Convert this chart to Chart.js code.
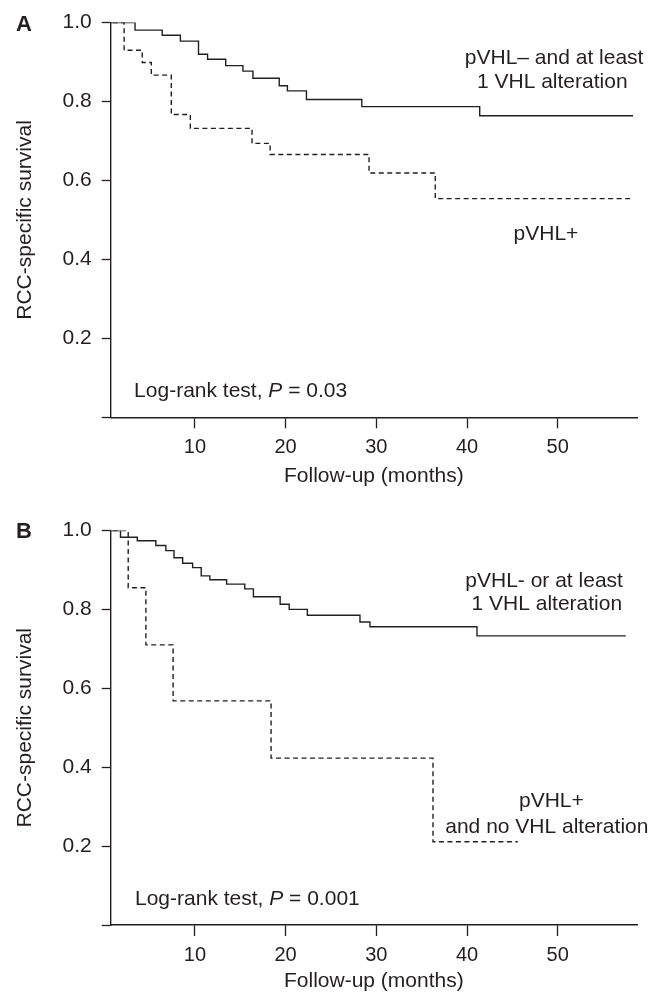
<!DOCTYPE html>
<html>
<head>
<meta charset="utf-8">
<script src="https://cdn.jsdelivr.net/npm/chart.js@4.4.0/dist/chart.umd.min.js"></script>
<style>
  html, body { margin: 0; padding: 0; background: #fff; }
  #wrap { position: relative; width: 665px; height: 996px; }
  .panel { position: absolute; left: 0; width: 665px; }
  #panelA { top: 0; height: 490px; }
  #panelB { top: 490px; height: 506px; }
</style>
</head>
<body>
<div id="wrap">
  <div class="panel" id="panelA"><canvas id="chartA"></canvas></div>
  <div class="panel" id="panelB"><canvas id="chartB"></canvas></div>
</div>
<script>
// survival curves (months, proportion surviving)
const aSolidT = [0, 3.4, 6.4, 8.4, 10.4, 11.4, 13.4, 15.3, 16.4, 19.3, 20.2, 22.3, 28.4, 41.4, 58.3];
const aSolidS = [1.0, 0.981, 0.968, 0.953, 0.920, 0.907, 0.891, 0.877, 0.859, 0.840, 0.827, 0.805, 0.787, 0.764, 0.764];
const aDashT = [0, 2.2, 4.2, 5.2, 7.4, 9.5, 16.3, 18.3, 29.2, 36.5, 58.3];
const aDashS = [1.0, 0.930, 0.899, 0.867, 0.767, 0.732, 0.694, 0.666, 0.619, 0.554, 0.554];

const bSolidT = [0, 1.8, 3.65, 5.7, 6.8, 7.7, 8.65, 9.75, 10.7, 11.65, 13.5, 15.5, 16.45, 19.4, 20.4, 22.4, 28.2, 29.3, 41.1, 57.5];
const bSolidS = [1.0, 0.983, 0.974, 0.962, 0.949, 0.931, 0.917, 0.906, 0.885, 0.875, 0.864, 0.852, 0.832, 0.813, 0.800, 0.785, 0.768, 0.756, 0.733, 0.733];
const bDashT = [0, 2.65, 4.6, 7.6, 18.4, 36.25, 45.6];
const bDashS = [1.0, 0.855, 0.710, 0.568, 0.423, 0.211, 0.211];

const xTicks = [10, 20, 30, 40, 50];
const yTicks = [0, 0.2, 0.4, 0.6, 0.8, 1.0];

const aLabels = ['pVHL\u2013 and at least', '1 VHL alteration', 'pVHL+'];
const bLabels = ['pVHL- or at least', '1 VHL alteration', 'pVHL+', 'and no VHL alteration'];
const aPValue = '0.03';
const bPValue = '0.001';

const INK = '#231f20';
const FAMILY = '"Liberation Sans", Arial, Helvetica, sans-serif';

function toPoints(t, s) {
    return t.map((v, i) => ({ x: v, y: s[i] }));
}

const kmText = {
    id: 'kmText',
    afterDraw(chart, args, opts) {
        const ctx = chart.ctx;
        const xs = chart.scales.x;
        const ys = chart.scales.y;
        ctx.save();
        ctx.fillStyle = INK;
        ctx.textBaseline = 'alphabetic';

        ctx.font = 'bold 22px ' + FAMILY;
        ctx.textAlign = 'left';
        ctx.fillText(opts.letter, opts.letterPos[0], opts.letterPos[1]);

        ctx.font = '21px ' + FAMILY;
        ctx.textAlign = 'center';
        opts.labels.forEach((text, i) => {
            const p = opts.labelPos[i];
            ctx.fillText(text, xs.getPixelForValue(p[0]), ys.getPixelForValue(p[1]));
        });

        // Log-rank line with italic P
        ctx.textAlign = 'left';
        let x = xs.getPixelForValue(opts.pPos[0]);
        const y = ys.getPixelForValue(opts.pPos[1]);
        const parts = [['Log-rank test, ', ''], ['P', 'italic '], [' = ' + opts.p, '']];
        parts.forEach(part => {
            ctx.font = part[1] + '21px ' + FAMILY;
            ctx.fillText(part[0], x, y);
            x += ctx.measureText(part[0]).width;
        });
        ctx.restore();
    }
};

function makeChart(id, solid, dashed, opts) {
    const ctx = document.getElementById(id).getContext('2d');
    return new Chart(ctx, {
        type: 'line',
        data: {
            datasets: [{
                data: solid,
                borderColor: INK,
                borderWidth: 1.4,
                pointRadius: 0,
                stepped: 'before',
                fill: false
            }, {
                data: dashed,
                borderColor: INK,
                borderWidth: 1.4,
                borderDash: [5, 3.5],
                pointRadius: 0,
                stepped: 'before',
                fill: false
            }]
        },
        options: {
            responsive: true,
            maintainAspectRatio: false,
            animation: false,
            layout: {
                padding: { top: opts.top, right: 28, bottom: 0, left: 0 }
            },
            plugins: {
                legend: { display: false },
                tooltip: { enabled: false },
                kmText: opts.text
            },
            scales: {
                x: {
                    type: 'linear',
                    min: 0.72,
                    max: 58.74,
                    afterBuildTicks: s => { s.ticks = xTicks.map(v => ({ value: v })); },
                    afterFit: s => { s.height = opts.xHeight; },
                    grid: { drawOnChartArea: false, drawTicks: true, tickLength: 11, color: INK, tickWidth: 1.3 },
                    border: { display: true, color: INK, width: 1.4 },
                    ticks: { color: INK, font: { family: FAMILY, size: 20 }, padding: 7, maxRotation: 0 },
                    title: {
                        display: true,
                        text: 'Follow-up (months)',
                        color: INK,
                        font: { family: FAMILY, size: 21 },
                        padding: { top: 0, bottom: opts.titlePad }
                    }
                },
                y: {
                    type: 'linear',
                    min: 0,
                    max: 1,
                    afterBuildTicks: s => { s.ticks = yTicks.map(v => ({ value: v })); },
                    afterFit: s => { s.width = 110.7; },
                    grid: { drawOnChartArea: false, drawTicks: true, tickLength: 9, color: INK, tickWidth: 1.3 },
                    border: { display: true, color: INK, width: 1.4 },
                    ticks: {
                        color: INK,
                        font: { family: FAMILY, size: 21 },
                        padding: 10,
                        callback: v => v === 0 ? '' : v.toFixed(1)
                    },
                    title: {
                        display: true,
                        text: 'RCC-specific survival',
                        color: INK,
                        font: { family: FAMILY, size: 21 },
                        padding: { top: 13, bottom: 0 }
                    }
                }
            }
        },
        plugins: [kmText]
    });
}

makeChart('chartA', toPoints(aSolidT, aSolidS), toPoints(aDashT, aDashS), {
    top: 21.7,
    xHeight: 72.7,
    titlePad: 1.5,
    text: {
        letter: 'A',
        letterPos: [16, 31],
        labels: aLabels,
        labelPos: [[49.6, 0.895], [49.4, 0.834], [48.7, 0.448]],
        p: aPValue,
        pPos: [3.3, 0.051]
    }
});

makeChart('chartB', toPoints(bSolidT, bSolidS), toPoints(bDashT, bDashS), {
    top: 40.5,
    xHeight: 71,
    titlePad: 2.5,
    text: {
        letter: 'B',
        letterPos: [16, 48],
        labels: bLabels,
        labelPos: [[48.5, 0.858], [48.8, 0.798], [49.3, 0.300], [48.8, 0.233]],
        p: bPValue,
        pPos: [3.4, 0.051]
    }
});
</script>
</body>
</html>
